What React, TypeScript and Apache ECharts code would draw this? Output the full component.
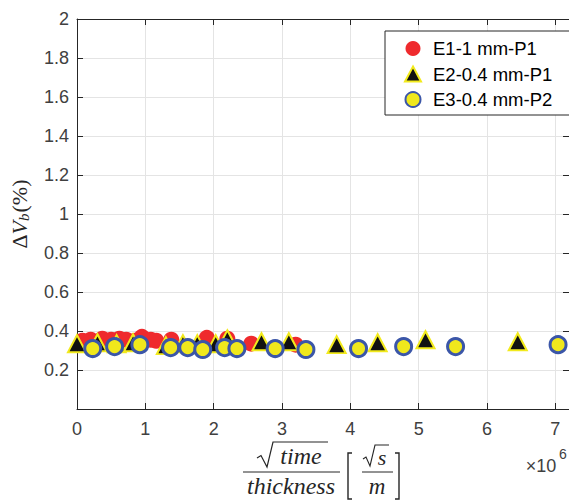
import React, { useEffect, useRef } from "react";
import * as echarts from "echarts";

// E1-1 mm-P1 (red circles): [x (×10^6), ΔVb %]
const e1X = [0.08, 0.2, 0.37, 0.5, 0.62, 0.72, 0.85, 0.95, 1.08, 1.16, 1.38, 1.9, 2.2, 2.55, 3.2];
const e1Y = [0.35, 0.355, 0.36, 0.355, 0.36, 0.355, 0.35, 0.37, 0.355, 0.35, 0.355, 0.365, 0.36, 0.335, 0.33];
// E2-0.4 mm-P1 (black triangles)
const e2X = [0, 0.3, 0.58, 0.82, 1.3, 1.55, 1.76, 2.03, 2.2, 2.7, 3.1, 3.8, 4.4, 5.1, 6.45];
const e2Y = [0.335, 0.34, 0.335, 0.34, 0.325, 0.335, 0.335, 0.335, 0.36, 0.345, 0.345, 0.33, 0.34, 0.355, 0.345];
// E3-0.4 mm-P2 (yellow circles)
const e3X = [0.23, 0.55, 0.92, 1.37, 1.62, 1.84, 2.16, 2.34, 2.9, 3.35, 4.12, 4.78, 5.54, 7.04];
const e3Y = [0.31, 0.32, 0.33, 0.315, 0.315, 0.305, 0.315, 0.31, 0.31, 0.305, 0.31, 0.32, 0.32, 0.33];

const seriesNames = ["E1-1 mm-P1", "E2-0.4 mm-P1", "E3-0.4 mm-P2"];

const zip = (xs: number[], ys: number[]) => xs.map((x, i) => [x, ys[i]]);

const AX = "#262626";
const LBL = "#404040";
const GRID = "#e4e4e4";

export default function App() {
  const ref = useRef<HTMLDivElement>(null);
  useEffect(() => {
    if (!ref.current) return;
    const chart = echarts.init(ref.current, undefined, { renderer: "svg" });
    const serif = "Liberation Serif";
    const mathText = (x: number, y: number, text: string, size: number, italic = true) => ({
      type: "text",
      x,
      y,
      style: {
        text,
        fill: AX,
        font: `${italic ? "italic " : ""}${size}px '${serif}'`,
        align: "center",
        verticalAlign: "middle",
      },
    });
    const pl = (pts: number[][], w = 1.2) => ({
      type: "polyline",
      shape: { points: pts },
      style: { stroke: AX, lineWidth: w, fill: "none" },
    });
    chart.setOption({
      animation: false,
      backgroundColor: "#ffffff",
      grid: { left: 77, top: 19, width: 493, height: 390, containLabel: false },
      xAxis: [
        {
          type: "value",
          min: 0,
          max: 7.2,
          interval: 1,
          axisLine: { show: true, onZero: false, lineStyle: { color: AX, width: 1 } },
          axisTick: { show: true, inside: true, length: 6, lineStyle: { color: AX } },
          axisLabel: {
            color: LBL,
            fontSize: 18,
            fontFamily: "Liberation Sans",
            margin: 11,
            showMaxLabel: false,
            formatter: (v: number) => (Math.abs(v - Math.round(v)) > 1e-6 ? "" : String(Math.round(v))),
          },
          splitLine: { show: true, lineStyle: { color: GRID, width: 1 } },
        },
        {
          type: "value",
          position: "top",
          min: 0,
          max: 7.2,
          interval: 1,
          axisLine: { show: true, onZero: false, lineStyle: { color: AX, width: 1 } },
          axisTick: { show: true, inside: true, length: 6, lineStyle: { color: AX } },
          axisLabel: { show: false },
          splitLine: { show: false },
        },
      ],
      yAxis: [
        {
          type: "value",
          min: 0,
          max: 2,
          interval: 0.2,
          axisLine: { show: true, onZero: false, lineStyle: { color: AX, width: 1 } },
          axisTick: { show: true, inside: true, length: 6, lineStyle: { color: AX } },
          axisLabel: {
            color: LBL,
            fontSize: 18,
            fontFamily: "Liberation Sans",
            margin: 8,
            formatter: (v: number) => (Math.abs(v) < 1e-9 ? "" : String(+v.toFixed(1))),
          },
          splitLine: { show: true, lineStyle: { color: GRID, width: 1 } },
          name: "{d|Δ}{v|V}{s|b}{p|(%)}",
          nameLocation: "middle",
          nameRotate: 90,
          nameGap: 46,
          nameTextStyle: {
            rich: {
              d: { fontFamily: serif, fontSize: 22, color: AX },
              v: { fontFamily: serif, fontStyle: "italic", fontSize: 22, color: AX },
              s: { fontFamily: serif, fontStyle: "italic", fontSize: 15, color: AX, verticalAlign: "bottom", padding: [8, 1, 0, 0] },
              p: { fontFamily: serif, fontSize: 22, color: AX },
            },
          },
        },
        {
          type: "value",
          position: "right",
          min: 0,
          max: 2,
          interval: 0.2,
          axisLine: { show: true, onZero: false, lineStyle: { color: AX, width: 1 } },
          axisTick: { show: true, inside: true, length: 6, lineStyle: { color: AX } },
          axisLabel: { show: false },
          splitLine: { show: false },
        },
      ],
      legend: {
        left: 385,
        top: 31,
        orient: "vertical",
        backgroundColor: "#ffffff",
        borderColor: AX,
        borderWidth: 1,
        borderRadius: 0,
        padding: [8, 19, 6, 19],
        itemWidth: 16,
        itemHeight: 15,
        itemGap: 6.5,
        textStyle: {
          fontSize: 18.5,
          fontFamily: "Liberation Sans",
          color: "#000",
          lineHeight: 15,
          padding: [0, 0, 0, 7],
        },
        data: seriesNames,
      },
      series: [
        {
          name: seriesNames[0],
          type: "scatter",
          symbol: "circle",
          symbolSize: 16,
          itemStyle: { color: "#ef2a2d", opacity: 1 },
          data: zip(e1X, e1Y),
          z: 2,
        },
        {
          name: seriesNames[1],
          type: "scatter",
          symbol: "triangle",
          symbolSize: [18, 17],
          itemStyle: { color: "#111111", borderColor: "#f2ea1c", borderWidth: 2, opacity: 1 },
          data: zip(e2X, e2Y),
          z: 3,
        },
        {
          name: seriesNames[2],
          type: "scatter",
          symbol: "circle",
          symbolSize: 16,
          itemStyle: { color: "#f0e81c", borderColor: "#3b56a8", borderWidth: 3, opacity: 1 },
          data: zip(e3X, e3Y),
          z: 4,
        },
      ],
      graphic: [
        // numerator sqrt(time)
        pl([[257, 458], [261, 455.5], [267, 467], [273, 442], [328, 442]]),
        mathText(301, 456, "time", 24),
        pl([[243, 472], [340, 472]], 1),
        mathText(291, 486, "thickness", 24),
        // bracket
        pl([[352, 453], [348, 453], [348, 499], [352, 499]], 1.4),
        pl([[395, 453], [399, 453], [399, 499], [395, 499]], 1.4),
        pl([[363, 459], [366, 457], [370, 466], [375, 445], [389, 445]], 1.1),
        mathText(382, 457, "s", 22),
        pl([[362, 472], [393, 472]], 1),
        mathText(377, 486, "m", 23),
        // exponent
        {
          type: "text",
          x: 541,
          y: 466,
          style: { text: "×10", fill: LBL, font: "18px 'Liberation Sans'", align: "center", verticalAlign: "middle" },
        },
        {
          type: "text",
          x: 563,
          y: 454,
          style: { text: "6", fill: LBL, font: "14px 'Liberation Sans'", align: "center", verticalAlign: "middle" },
        },
      ],
    });
    return () => chart.dispose();
  }, []);
  return (
    <div
      ref={ref}
      style={{ position: "fixed", left: 0, top: 0, width: 569, height: 502, background: "#fff" }}
    />
  );
}
